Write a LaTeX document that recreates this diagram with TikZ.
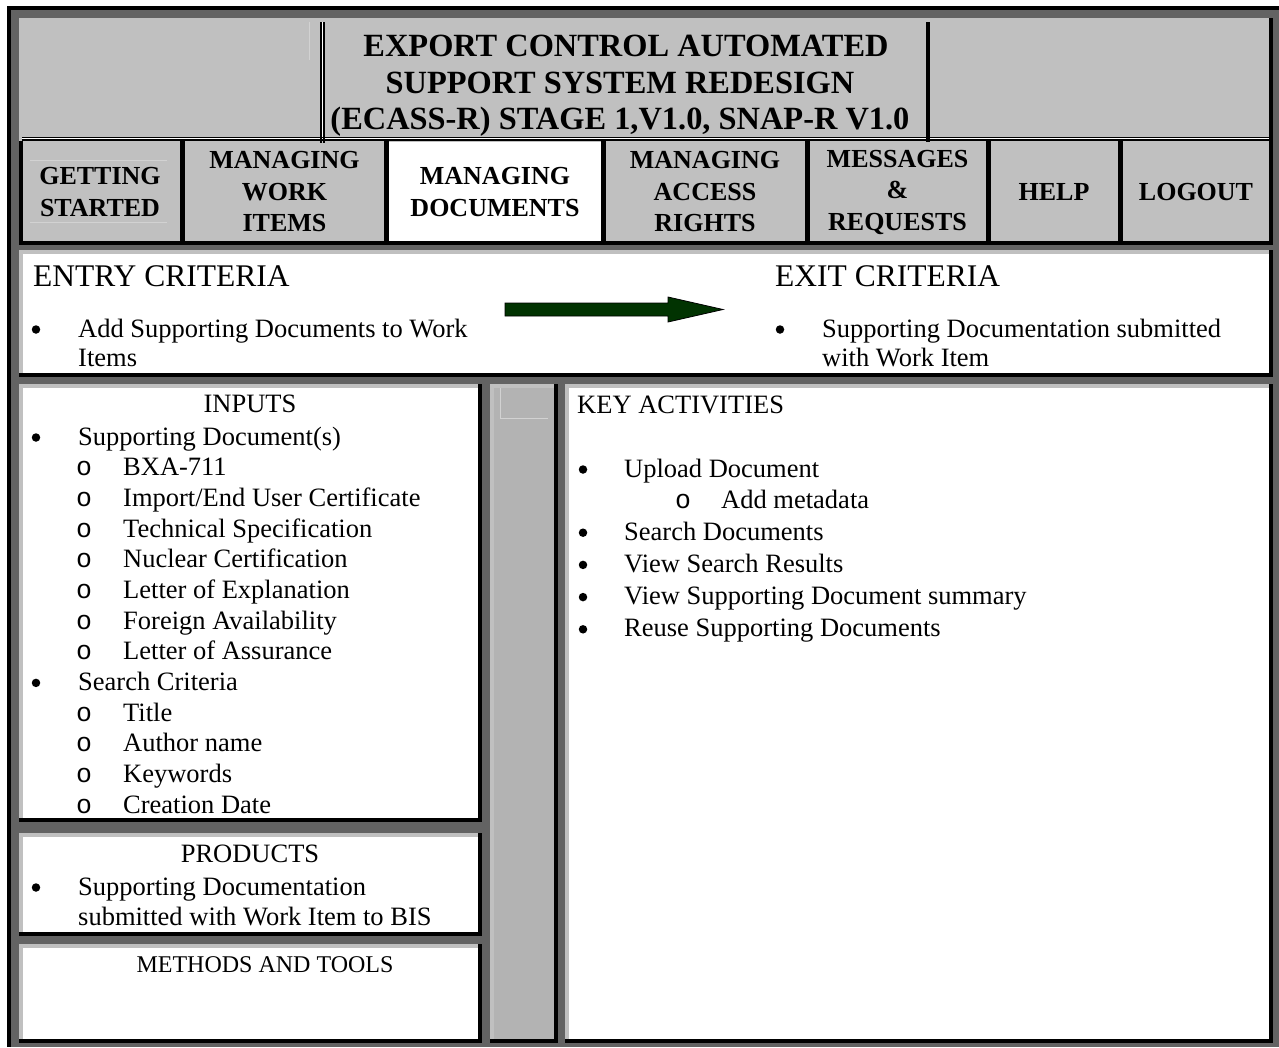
\documentclass[tikz,border=0pt]{standalone}
\usepackage{fontspec}
\setmainfont{Liberation Serif}
\newfontfamily\monofont{Liberation Mono}
\usepackage{tikz}
\usetikzlibrary{calc}

\definecolor{frame}{RGB}{99,99,99}
\definecolor{bevel}{RGB}{192,192,192}
\definecolor{column}{RGB}{179,179,179}
\definecolor{faint}{RGB}{210,210,210}
\definecolor{darkgreen}{RGB}{1,51,1}

\tikzstyle{titletext} = [font=\fontsize{32.4}{37}\selectfont\bfseries, anchor=base, inner sep=0]
\tikzstyle{tabtext} = [font=\fontsize{26}{31.5}\selectfont\bfseries, align=center, inner sep=0]
\tikzstyle{criteria} = [font=\fontsize{31.5}{36}\selectfont, anchor=base west, inner sep=0]
\tikzstyle{heading} = [font=\fontsize{26.5}{30}\selectfont, anchor=base, inner sep=0]
\tikzstyle{smallhead} = [font=\fontsize{24}{28}\selectfont, anchor=base, inner sep=0]
\tikzstyle{itemtext} = [font=\fontsize{26.5}{30}\selectfont, anchor=base west, inner sep=0]
\tikzstyle{bullet} = [circle, fill=black, inner sep=0, minimum size=8.5]
\tikzstyle{subbullet} = [font=\fontsize{26.5}{30}\monofont, anchor=base, inner sep=0]

% raised cell: light edge top/left, black edge bottom/right
\newcommand{\panelbox}[5]{%
  \fill[black] (#1,#2) rectangle (#3,#4);
  \fill[bevel] (#1,#2) rectangle (#3-4,#4-4);
  \fill[#5] (#1+4,#2+4) rectangle (#3-4,#4-4);
}

\begin{document}
\begin{tikzpicture}[x=1pt, y=-1pt]
	\useasboundingbox (0,0) rectangle (1279,1047);

	% page and frame
	\fill[white] (0,0) rectangle (1279,1047);
	\fill[black] (7,6) rectangle (1279,1047);
	\fill[frame] (11,10) rectangle (1279,1047);

	% header: title row and tabs
	\panelbox{19}{18}{1273}{245}{bevel}
	\fill[black] (19,141) rectangle (22.5,245);
	\fill[black] (22,136.5) rectangle (1269,138.3);
	\fill[white] (22,138.3) rectangle (1269,139.3);
	\fill[black] (22,139.3) rectangle (1269,141.2);
	\fill[black] (320,22) rectangle (322,143);
	\fill[white] (322,22) rectangle (323,136.5);
	\fill[black] (323,22) rectangle (325,143);
	\fill[black] (926,22) rectangle (930,142);
	\draw[faint, line width=0.6] (309,22) -- (309,60);
	\draw[faint, line width=0.6] (30,160) -- (167,160);
	\draw[faint, line width=0.6] (30,222) -- (167,222);

	\node[titletext] (title1) at (626,56) {EXPORT CONTROL AUTOMATED};
	\node[titletext] (title2) at (620,93) {SUPPORT SYSTEM REDESIGN};
	\node[titletext] (title3) at (620,129) {(ECASS-R) STAGE 1,V1.0, SNAP-R V1.0};

	\fill[white] (389,142) rectangle (601,241);
	\foreach \x in {180,384,601,805,986,1118}
		\fill[black] (\x,141) rectangle (\x+4.5,241);

	\node[tabtext] (tabstart) at (100,192) {GETTING\\STARTED};
	\node[tabtext] (tabwork) at (284.5,192) {MANAGING\\WORK\\ITEMS};
	\node[tabtext] (tabdocs) at (495,192) {MANAGING\\DOCUMENTS};
	\node[tabtext] (tabaccess) at (705,192) {MANAGING\\ACCESS\\RIGHTS};
	\node[tabtext] (tabmsg) at (897.5,192) {MESSAGES\\\&\\REQUESTS};
	\node[tabtext] (tabhelp) at (1054,192) {HELP};
	\node[tabtext] (tablogout) at (1196,192) {LOGOUT};

	% entry and exit criteria
	\panelbox{19}{250}{1273}{377}{white}
	\node[criteria] (entry) at (33,286) {ENTRY CRITERIA};
	\node[bullet] (entryb) at (36,329.5) {};
	\node[itemtext] (entry1) at (78,337) {Add Supporting Documents to Work};
	\node[itemtext] (entry2) at (78,366) {Items};
	\node[criteria] (exit) at (775,286) {EXIT CRITERIA};
	\node[bullet] (exitb) at (780,329.5) {};
	\node[itemtext] (exit1) at (822,337) {Supporting Documentation submitted};
	\node[itemtext] (exit2) at (822,366) {with Work Item};
	\filldraw[fill=darkgreen, draw=black, line width=0.8]
		(505,303) -- (668,303) -- (668,297) -- (723,309.5) -- (668,322)
		-- (668,316) -- (505,316) -- cycle;

	% lower panels
	\panelbox{19}{384}{482}{822}{white}
	\panelbox{19}{833}{482}{936}{white}
	\panelbox{19}{944}{482}{1043}{white}
	\panelbox{490}{384}{558}{1043}{column}
	\panelbox{565}{384}{1273}{1043}{white}
	\draw[faint, line width=0.8] (500,388) -- (500,418) -- (548,418);

	% inputs
	\node[heading] (inputs) at (250,412) {INPUTS};
	\node[bullet] (inb1) at (36,437.5) {};
	\node[itemtext] (suppdoc) at (78,445) {Supporting Document(s)};
	\foreach \t [count=\i] in {BXA-711, Import/End User Certificate, Technical Specification,
		Nuclear Certification, Letter of Explanation, Foreign Availability, Letter of Assurance}
	{
		\node[subbullet] (doco\i) at (84,445+30.67*\i) {o};
		\node[itemtext] (doc\i) at (123,445+30.67*\i) {\t};
	}
	\node[bullet] (inb2) at (36,682.9) {};
	\node[itemtext] (search) at (78,690.4) {Search Criteria};
	\foreach \t [count=\i] in {Title, Author name, Keywords, Creation Date}
	{
		\node[subbullet] (crito\i) at (84,690.4+30.67*\i) {o};
		\node[itemtext] (crit\i) at (123,690.4+30.67*\i) {\t};
	}

	% products, methods
	\node[heading] (products) at (250,862) {PRODUCTS};
	\node[bullet] (prodb) at (36,887.5) {};
	\node[itemtext] (prod1) at (78,895) {Supporting Documentation};
	\node[itemtext] (prod2) at (78,925) {submitted with Work Item to BIS};
	\node[smallhead] (methods) at (265,972) {METHODS AND TOOLS};

	% key activities
	\node[heading, anchor=base west] (keyact) at (577,413) {KEY ACTIVITIES};
	\node[bullet] (kb0) at (583,469.5) {};
	\node[itemtext] (upload) at (624,477) {Upload Document};
	\node[subbullet] (ko1) at (683,508) {o};
	\node[itemtext] (meta) at (721,508) {Add metadata};
	\foreach \t [count=\i] in {Search Documents, View Search Results,
		View Supporting Document summary, Reuse Supporting Documents}
	{
		\node[bullet] (kb\i) at (583,500.5+32.2*\i) {};
		\node[itemtext] (act\i) at (624,508+32.2*\i) {\t};
	}
\end{tikzpicture}
\end{document}
